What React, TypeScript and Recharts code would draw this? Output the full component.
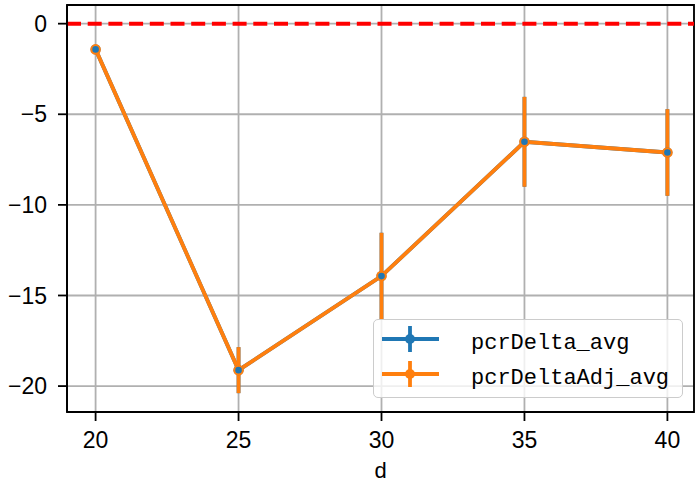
import React from 'react';
import {
  ComposedChart,
  Line,
  XAxis,
  YAxis,
  CartesianGrid,
  ReferenceLine,
  ReferenceArea,
  ErrorBar,
} from 'recharts';

// ---- data ----
const dValues = [20, 25, 30, 35, 40];
const pcrDeltaAvg = [-1.42, -19.12, -13.93, -6.52, -7.11];
const pcrDeltaAdjAvg = [-1.42, -19.12, -13.93, -6.52, -7.11];
const pcrDeltaErr = [0, 1.27, 2.39, 2.48, 2.39];
const pcrDeltaAdjErr = [0, 1.27, 2.39, 2.48, 2.39];
const xTicks = [20, 25, 30, 35, 40];
const yTicks = [-20, -15, -10, -5, 0];
const seriesNames = ['pcrDelta_avg', 'pcrDeltaAdj_avg'];
const seriesColors = ['#1f77b4', '#ff7f0e'];
const xLabel = 'd';

const xDomain = [19.0, 40.93];
const yDomain = [-21.43, 1.03];

const data = dValues.map((d, i) => ({
  d,
  pcrDelta_avg: pcrDeltaAvg[i],
  pcrDeltaAdj_avg: pcrDeltaAdjAvg[i],
  errA: pcrDeltaErr[i],
  errB: pcrDeltaAdjErr[i],
}));

const tickStyle = { fontSize: 23, fill: '#000', fontFamily: 'Liberation Sans, Arial, sans-serif' };
const fmt = (v: number) => String(v).replace('-', '\u2212');

const LegendOverlay = () => {
  const rows = [21, 56];
  return (
    <div
      style={{
        position: 'absolute',
        left: 373,
        top: 319,
        width: 310,
        height: 79,
        boxSizing: 'border-box',
        border: '1.8px solid #cccccc',
        borderRadius: 5,
        background: 'rgba(255,255,255,0.8)',
      }}
    >
      <svg width={310} height={79} style={{ position: 'absolute', left: -1.8, top: -1.8 }}>
        {seriesNames.map((name, i) => {
          const y = rows[i];
          const c = seriesColors[i];
          return (
            <g key={name}>
              <line x1={10} x2={67} y1={y} y2={y} stroke={c} strokeWidth={3.8} />
              <line x1={38} x2={38} y1={y - 13} y2={y + 13} stroke={c} strokeWidth={3.8} />
              <circle cx={38} cy={y} r={5} fill={c} />
              <text
                x={99}
                y={y + 10}
                fontSize={22}
                fontFamily="Liberation Mono, DejaVu Sans Mono, monospace"
                fill="#000"
              >
                {name}
              </text>
            </g>
          );
        })}
      </svg>
    </div>
  );
};

export default function App() {
  return (
    <div style={{ position: 'absolute', left: 0, top: 0, width: 696, height: 482, background: '#fff' }}>
      <ComposedChart
        width={696}
        height={482}
        data={data}
        margin={{ top: 5, right: 2, left: 0, bottom: 0 }}
      >
        <CartesianGrid stroke="#b0b0b0" strokeWidth={1.8} />
        <XAxis
          dataKey="d"
          type="number"
          domain={xDomain}
          ticks={xTicks}
          allowDataOverflow
          height={70}
          tickSize={9}
          tickMargin={11}
          tick={tickStyle}
          tickFormatter={fmt}
          axisLine={{ stroke: '#000', strokeWidth: 1.8 }}
          tickLine={{ stroke: '#000', strokeWidth: 1.8 }}
          label={{
            value: xLabel,
            position: 'insideBottom',
            offset: 4,
            fontSize: 22,
            fill: '#000',
            fontFamily: 'Liberation Sans, Arial, sans-serif',
          }}
        />
        <YAxis
          type="number"
          domain={yDomain}
          ticks={yTicks}
          allowDataOverflow
          width={67}
          tickSize={9}
          tickMargin={11}
          tick={tickStyle}
          tickFormatter={fmt}
          axisLine={{ stroke: '#000', strokeWidth: 1.8 }}
          tickLine={{ stroke: '#000', strokeWidth: 1.8 }}
        />
        <ReferenceLine y={0} stroke="#ff0000" strokeWidth={4} strokeDasharray="14 6.7" />
        <Line
          dataKey="pcrDelta_avg"
          name={seriesNames[0]}
          stroke={seriesColors[0]}
          strokeWidth={3.8}
          dot={{ r: 5, fill: seriesColors[0], stroke: 'none' }}
          activeDot={false}
          isAnimationActive={false}
        >
          <ErrorBar dataKey="errA" direction="y" width={0} stroke={seriesColors[0]} strokeWidth={3.8} isAnimationActive={false} />
        </Line>
        <Line
          dataKey="pcrDeltaAdj_avg"
          name={seriesNames[1]}
          stroke={seriesColors[1]}
          strokeWidth={3.8}
          dot={{ r: 4.3, fill: 'none', stroke: seriesColors[1], strokeWidth: 2 }}
          activeDot={false}
          isAnimationActive={false}
        >
          <ErrorBar dataKey="errB" direction="y" width={0} stroke={seriesColors[1]} strokeWidth={3.8} isAnimationActive={false} />
        </Line>
        <ReferenceArea
          x1={xDomain[0]}
          x2={xDomain[1]}
          y1={yDomain[0]}
          y2={yDomain[1]}
          fill="none"
          stroke="#000"
          strokeWidth={1.8}
          ifOverflow="visible"
        />
      </ComposedChart>
      <LegendOverlay />
    </div>
  );
}
